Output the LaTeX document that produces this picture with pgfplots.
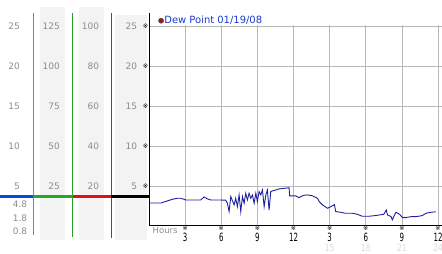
\documentclass[border=0pt]{standalone}
\usepackage{fontspec}
\setmainfont{DejaVu Sans}
\usepackage{graphicx}
\usepackage{pgfplots}
\pgfplotsset{compat=1.18}
\definecolor{lblgray}{HTML}{8C8C8C}
\definecolor{colbg}{HTML}{F3F3F3}
\definecolor{vblue}{HTML}{2FA0D2}
\definecolor{vgreen}{HTML}{2A9A2A}
\definecolor{vred}{HTML}{B02828}
\definecolor{hblue}{HTML}{0C48D8}
\definecolor{hgreen}{HTML}{22AA22}
\definecolor{hred}{HTML}{E01212}
\definecolor{gridgray}{HTML}{B8B8B8}
\definecolor{lineblue}{HTML}{1E1EA0}
\definecolor{legblue}{HTML}{1A3ACC}
\definecolor{dotred}{HTML}{A01818}
\definecolor{faint}{HTML}{DADADA}
\newcommand{\tk}{{\fontsize{6.2}{7}\selectfont ※}}
\newcommand{\dg}[1]{\scalebox{0.62}[1]{#1}}
\newcommand{\gd}[1]{\textcolor{faint}{\fontsize{10}{10}\selectfont\scalebox{0.75}[1]{#1}}}
\begin{document}
\begin{tikzpicture}[x=1bp,y=1bp]
\path[use as bounding box] (0,0) rectangle (442,253);
% shaded scale columns
\fill[colbg] (40,13) rectangle (65,246);
\fill[colbg] (79.3,13) rectangle (104,246);
\fill[colbg] (115,13) rectangle (146.5,238);
% vertical scale lines
\draw[vblue, line width=1bp] (33.3,18) -- (33.3,240.3);
\draw[vgreen, line width=1bp] (72.7,16) -- (72.7,240.3);
\draw[vred, line width=1bp] (111.3,15) -- (111.3,240.3);
% current-value line
\draw[hblue, line width=2.7bp] (0,56.3) -- (33.3,56.3);
\draw[hgreen, line width=2.7bp] (33.3,56.3) -- (72.7,56.3);
\draw[hred, line width=2.7bp] (72.7,56.3) -- (111.3,56.3);
\draw[black, line width=2.7bp] (111.3,56.3) -- (149,56.3);
% scale labels
\begin{scope}[every node/.style={font=\fontsize{9}{10}\selectfont, text=lblgray, inner sep=0pt}]
\foreach \y/\a/\b/\c/\d in {226.3/25/125/100/25, 186.3/20/100/80/20, 146.3/15/75/60/15, 106.3/10/50/40/10, 66.3/5/25/20/5} {
  \node[anchor=east] at (20,\y) {\a};
  \node[anchor=east] at (60,\y) {\b};
  \node[anchor=east] at (99.3,\y) {\c};
  \node[anchor=east] at (137.3,\y) {\d};
}
\node[anchor=east] at (27.3,48.7) {4.8};
\node[anchor=east] at (27.3,34.7) {1.8};
\node[anchor=east] at (27.3,21.3) {0.8};
\node[anchor=west, font=\fontsize{8.5}{10}\selectfont] at (152.5,22.8) {Hours};
\end{scope}
\begin{axis}[
  at={(149bp,28bp)}, anchor=south west,
  scale only axis, width=293bp, height=200bp,
  xmin=0, xmax=24.33, ymin=0.2, ymax=25.2,
  axis x line*=bottom, axis y line*=left,
  axis line style={black, line width=1bp},
  grid=major, grid style={gridgray, line width=0.8bp},
  major tick length=0pt,
  xtick={3,6,9,12,15,18,21,24},
  xticklabels={
    {\tk\\[0.4bp]\dg{3}},
    {\tk\\[0.4bp]\dg{6}},
    {\tk\\[0.4bp]\dg{9}},
    {\tk\\[0.4bp]\dg{12}},
    {\tk\\[0.4bp]\dg{3}\\[-1.2bp]\gd{15}},
    {\tk\\[0.4bp]\dg{6}\\[-1.2bp]\gd{18}},
    {\tk\\[0.4bp]\dg{9}\\[-1.2bp]\gd{21}},
    {\tk\\[0.4bp]\dg{12}\\[-1.2bp]\gd{24}}},
  xticklabel style={anchor=north, align=center, inner sep=0pt, yshift=-1.2bp,
    font=\fontsize{11.4}{10.6}\selectfont, text=black},
  ytick={5,10,15,20,25},
  yticklabels={※,※,※,※,※},
  yticklabel style={anchor=east, inner sep=0.4bp, font=\fontsize{6.5}{7}\selectfont, text=black},
  /pgf/number format/assume math mode=true,
  clip=false,
  legend style={at={(axis description cs:0.031,1.0215)}, anchor=west, draw=none, fill=none,
    inner sep=0pt, font=\fontsize{10}{11}\selectfont, text=legblue,
    nodes={inner sep=0.5bp}, column sep=0pt},
]
\addplot[lineblue, line width=0.9bp, forget plot] coordinates {
(0.0,2.95) (1.0,2.95) (1.5,3.2) (1.95,3.42) (2.35,3.54) (2.65,3.54) (3.05,3.33)
(4.3,3.33) (4.57,3.71) (4.85,3.46) (5.13,3.33) (5.82,3.33) (6.37,3.30) (6.51,2.92)
(6.65,1.88) (6.79,3.75) (7.07,2.71) (7.20,3.54) (7.34,2.50) (7.48,3.96) (7.62,1.88)
(7.76,3.75) (7.90,2.92) (8.03,4.17) (8.17,3.33) (8.31,4.17) (8.45,3.54) (8.59,3.96)
(8.73,2.92) (8.87,4.17) (9.00,3.13) (9.14,4.38) (9.28,3.96) (9.42,4.58) (9.56,2.50)
(9.70,3.96) (9.83,4.58) (9.97,2.08) (10.11,4.38) (10.25,4.46) (10.53,4.58) (10.80,4.71)
(11.22,4.79) (11.63,4.85) (11.68,3.85) (12.19,3.85) (12.45,3.62) (12.60,3.75) (12.88,3.92)
(13.16,3.96) (13.57,3.85) (13.99,3.54) (14.13,3.13) (14.41,2.71) (14.82,2.29) (15.1,2.5)
(15.4,2.75) (15.5,1.88) (15.9,1.79) (16.3,1.67) (16.9,1.67) (17.3,1.54) (17.7,1.3)
(18.3,1.3) (18.8,1.38) (19.5,1.54) (19.7,2.08) (19.8,1.46) (20.1,1.25) (20.2,0.85)
(20.5,1.79) (20.8,1.54) (21.05,1.13) (21.3,1.13) (21.8,1.25) (22.2,1.25) (22.7,1.38)
(23.0,1.67) (23.4,1.79) (23.8,1.85)
};
\addlegendimage{legend image code/.code={\draw[fill=dotred, draw=black!70, line width=0.4bp] (2.8bp,0) circle (2.6bp);}}
\addlegendentry{\fontsize{10}{11}\selectfont Dew Point 01/19/08}
\draw[black, line width=1bp] (axis cs:0,25.2) -- (axis cs:0,26.7);
\end{axis}
\end{tikzpicture}
\end{document}
